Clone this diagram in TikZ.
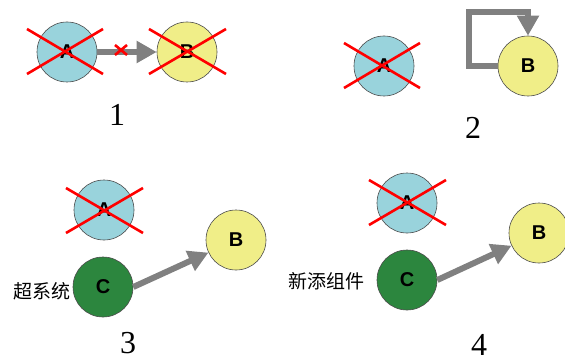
\documentclass[tikz,border=0pt]{standalone}
\usepackage{fontspec}
\setmainfont{Liberation Serif}
\newfontfamily\arial{Liberation Sans}
\newfontfamily\cjk{Noto Sans CJK SC}
\usetikzlibrary{arrows.meta,calc}
\definecolor{hellblau}{RGB}{153,211,220}
\definecolor{gelb}{RGB}{240,238,136}
\definecolor{gruen}{RGB}{44,134,62}
\begin{document}
\begin{tikzpicture}[x=1pt,y=-1pt]
\tikzset{kreis/.style={circle,draw=black!70,line width=0.6pt,minimum size=60pt,inner sep=0pt,font=\arial\bfseries\fontsize{20}{20}\selectfont},
  pfeil/.style={draw=black!50,line width=6pt,-{Triangle[length=20pt,width=21pt]}},
  kreuz/.style={red,line width=2.6pt},
  zahl/.style={inner sep=0pt,font=\fontsize{32}{32}\selectfont},
  beschrift/.style={inner sep=2pt,font=\cjk\fontsize{19}{19}\selectfont}}
\useasboundingbox (0,0) rectangle (565,361);
% 1
\node [kreis,fill=hellblau] (a1) at (67,52) {A};
\node [kreis,fill=gelb] (b1) at (187,52) {B};
\draw[pfeil] (a1) to (b1);
\coordinate (m1) at (121,50);
\draw[kreuz] ($(a1)+(-40,-23)$) to ($(a1)+(36,22)$);
\draw[kreuz] ($(a1)+(-40,22)$) to ($(a1)+(36,-23)$);
\draw[kreuz] ($(b1)+(-38,-23)$) to ($(b1)+(39,22)$);
\draw[kreuz] ($(b1)+(-38,22)$) to ($(b1)+(39,-23)$);
\draw[kreuz] ($(m1)+(-6,-5)$) to ($(m1)+(6,5)$);
\draw[kreuz] ($(m1)+(-6,5)$) to ($(m1)+(6,-5)$);
\node [zahl] (n1) at (117,115) {1};
% 2
\node [kreis,fill=hellblau] (a2) at (384,66) {A};
\node [kreis,fill=gelb] (b2) at (528,66) {B};
\coordinate (ecke) at (469,12);
\draw[pfeil] (b2.west) -| (ecke) -| (b2.north);
\draw[kreuz] ($(a2)+(-40,-23)$) to ($(a2)+(36,22)$);
\draw[kreuz] ($(a2)+(-40,22)$) to ($(a2)+(36,-23)$);
\node [zahl] (n2) at (473,128) {2};
% 3
\node [kreis,fill=hellblau] (a3) at (104,210) {A};
\node [kreis,fill=gelb] (b3) at (236,240) {B};
\node [kreis,fill=gruen] (c3) at (103,287) {C};
\draw[pfeil] (c3.east) to (b3);
\draw[kreuz] ($(a3)+(-38,-22)$) to ($(a3)+(39,23)$);
\draw[kreuz] ($(a3)+(-38,23)$) to ($(a3)+(39,-22)$);
\node [beschrift,anchor=east] (t3) at ($(c3.west)+(0,4)$) {超系统};
\node [zahl] (n3) at (128,343) {3};
% 4
\node [kreis,fill=hellblau] (a4) at (407,203) {A};
\node [kreis,fill=gelb] (b4) at (539,233) {B};
\node [kreis,fill=gruen] (c4) at (407,280) {C};
\draw[pfeil] (c4.east) to (b4);
\draw[kreuz] ($(a4)+(-38,-23)$) to ($(a4)+(39,22)$);
\draw[kreuz] ($(a4)+(-38,22)$) to ($(a4)+(39,-23)$);
\node [beschrift] (t4) at (326,281) {新添组件};
\node [zahl] (n4) at (479,345) {4};
\end{tikzpicture}
\end{document}
